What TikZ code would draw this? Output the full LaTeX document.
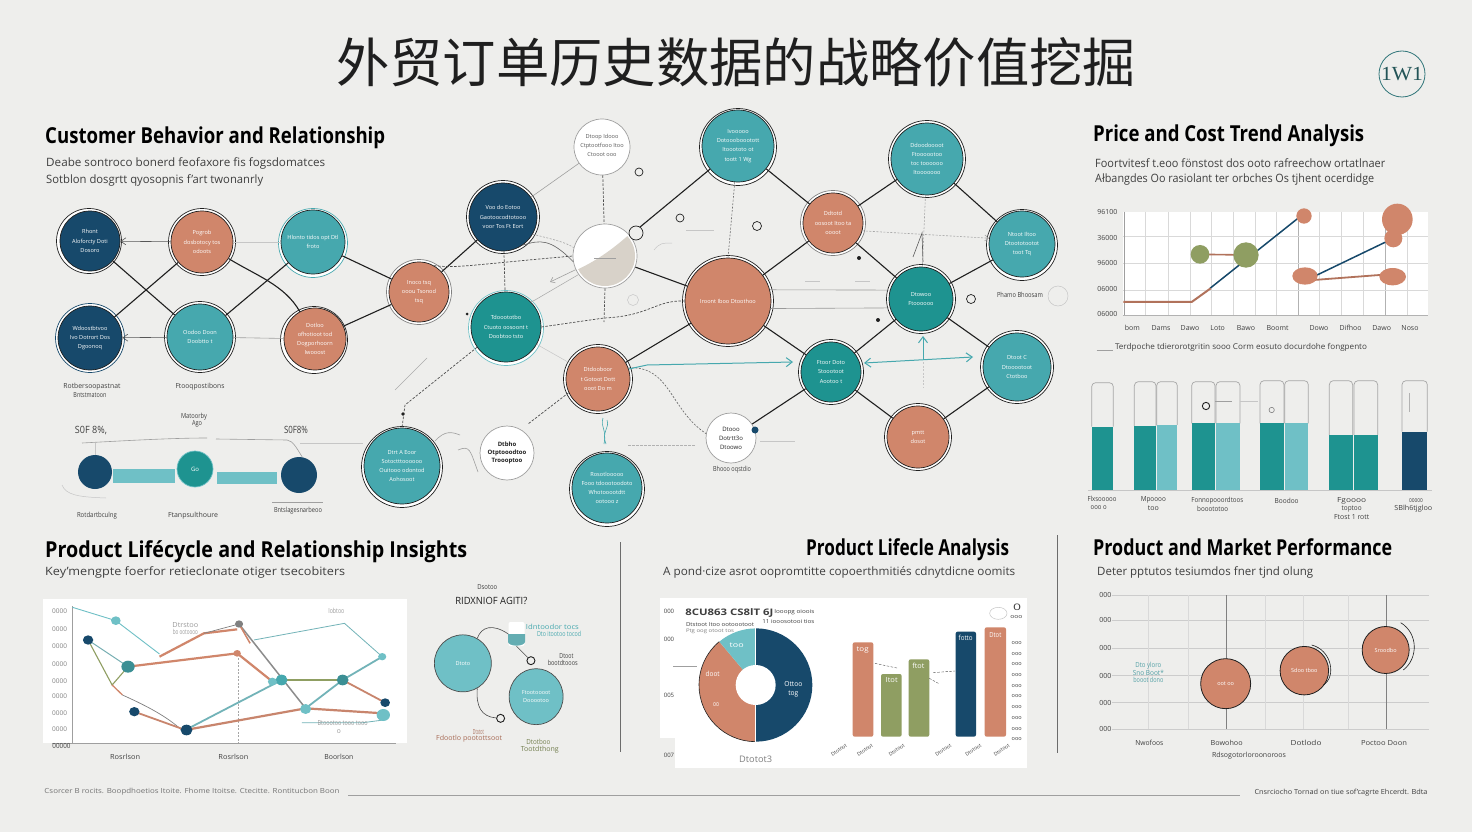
\documentclass[tikz,border=0pt]{standalone}
\usepackage{fontspec}
\setmainfont{Open Sans}
\newfontfamily\cjk{Noto Sans CJK SC}
\newfontfamily\lgf{Liberation Serif}
\usetikzlibrary{arrows.meta,shapes.geometric}
\definecolor{bgc}{HTML}{EEEEEC}
\definecolor{navy}{HTML}{17496B}
\definecolor{coral}{HTML}{D0866B}
\definecolor{teal1}{HTML}{46A8AE}
\definecolor{dteal}{HTML}{1E9390}
\definecolor{lteal}{HTML}{6FC0C6}
\definecolor{olive}{HTML}{8F9E62}
\definecolor{ink}{HTML}{1F1F1F}
\definecolor{txt}{HTML}{3F3F3F}
\definecolor{beige}{HTML}{D8D2C9}
\newcommand\fitw[2]{\resizebox{#1pt}{\height}{#2}}
\newcommand\fs[1]{\fontsize{#1}{#1}\selectfont}
\newcommand\tl[6]{\node[#5] (#1) at (#2,#3) {\fitw{#4}{#6}};}
% name x y r fill edge dx dy text
\newcommand\bub[9]{%
  \draw[#6,line width=.7pt,fill=white] ({#2+#7},{#3+#8}) circle ({#4+2.5});
  \node[bubble,minimum size=2*#4pt,fill=#5] (#1) at (#2,#3) {#9};}
\newcommand\wbub[4]{%
  \node[bubble,minimum size=2*#4pt,fill=white,draw=gray!75] (#1) at (#2,#3) {};}
\tikzset{
  bubble/.style={circle,draw=ink,line width=.7pt,inner sep=0pt,align=center,text=white,font=\fontsize{5.6}{9.2}\selectfont},
  head/.style={anchor=base west,inner sep=0pt,font=\fs{22}\bfseries,text=black},
  sub/.style={anchor=west,inner sep=0pt,font=\fs{11.5},text=txt},
  lbl/.style={inner sep=0pt,font=\fs{7},text=txt},
  link/.style={draw=ink,line width=1.1pt},
  thin gray/.style={draw=gray!75,line width=.6pt},
  faint/.style={draw=gray!45,line width=.5pt},
  dsh/.style={draw=ink!80,line width=.7pt,dash pattern=on 2.5pt off 1.5pt},
  ldsh/.style={draw=gray!70,line width=.6pt,dash pattern=on 2pt off 1.5pt},
  barb/.style={-{Straight Barb[length=5pt,width=7pt]}},
  tarrow/.style={draw=teal1,line width=1pt,-{Straight Barb[length=6pt,width=9pt]}},
  sring/.style={draw=ink,line width=.7pt,fill=none},
  grid1/.style={draw=gray!30,line width=.5pt},
  z3/.style={x=.33333pt,y=-.33333pt},
  oval/.style={ellipse,draw=ink!80,line width=.7pt,fill=lteal,inner sep=0pt,text=white,font=\fontsize{5.5}{8}\selectfont,align=center},
}
\begin{document}
\begin{tikzpicture}[x=1pt,y=-1pt]
\useasboundingbox (0,0) rectangle (1472,832);
\fill[bgc] (0,0) rectangle (1472,832);
% title
\node[inner sep=0pt,font=\cjk\fs{53},text=ink] (title) at (736,62) {\fitw{800}{外贸订单历史数据的战略价值挖掘}};
\draw[teal1!70!black,line width=.8pt] (1402,74) circle (23);
\node[inner sep=0pt,font=\lgf\fs{20},text=teal1!50!black] (logo) at (1402,74) {\fitw{42}{1W1}};
% headings
\tl{h1}{45}{143}{340}{head}{Customer Behavior and Relationship}
\tl{h2}{1093}{142}{271}{head}{Price and Cost Trend Analysis}
\tl{h3}{45}{557}{422}{head}{Product Lifécycle and Relationship Insights}
\tl{h4}{806}{555}{203}{head}{Product Lifecle Analysis}
\tl{h5}{1093}{555}{299}{head}{Product and Market Performance}
\tl{s1}{46}{163}{279}{sub}{Deabe sontroco bonerd feofaxore fis fogsdomatces}
\tl{s2}{46}{180}{217}{sub}{Sotblon dosgrtt qyosopnis f'art twonanrly}
\tl{s3}{1095}{163}{290}{sub}{Foortvitesf t.eoo fönstost dos ooto rafreechow ortatlnaer}
\tl{s4}{1095}{180}{279}{sub}{Ałbangdes Oo rasiolant ter orbches Os tjhent ocerdidge}
\tl{s5}{45}{572}{300}{sub}{Key'mengpte foerfor retieclonate otiger tsecobiters}
\tl{s6}{663}{572}{352}{sub}{A pond·cize asrot oopromtitte copoerthmitiés cdnytdicne oomits}
\tl{s7}{1097}{572}{216}{sub}{Deter pptutos tesiumdos fner tjnd olung}
% separators, footer
\coordinate (v1a) at (620,542); \coordinate (v1b) at (620,752);
\coordinate (v2a) at (1057,535); \coordinate (v2b) at (1057,753);
\draw[draw=gray!85!black,line width=.7pt] (v1a)--(v1b);
\draw[draw=gray!85!black,line width=.7pt] (v2a)--(v2b);
\coordinate (fa) at (348,795); \coordinate (fb) at (1240,795);
\draw[thin gray] (fa)--(fb);
\tl{f1}{192}{792}{295}{lbl,text=gray!90!black}{Csorcer B rocits. Boopdhoetios Itoite. Fhome Itoitse. Ctecitte. Rontitucbon Boon}
\tl{f2}{1341}{793}{173}{lbl}{Cnsrciocho Tornad on tiue sof'cagrte Ehcerdt. Bdta}

% ---------- network bubbles
\bub{a1}{90}{241}{30}{navy}{ink}{-1}{0}{Rhont\\Aloforcty Doti\\Dosoro}
\bub{a2}{202}{242}{31}{coral}{ink}{0}{0}{Pogrob\\dosbotocy tos\\odoots}
\bub{a3}{313}{242}{32}{teal1}{teal1}{0}{1}{Hlonto tidos opt Dtl\\froto}
\bub{b1}{90}{338}{32}{navy}{navy}{0}{0}{Wdoostbtvoo\\Ivo Dotrort Dos\\Dgoonoq}
\bub{b2}{200}{337}{33}{teal1}{ink}{0}{0}{Oodoo Doon\\Doobtto t}
\bub{b3}{315}{339}{31}{coral}{ink}{-1}{1}{Dotloo\\ofhotioot tod\\Dogporhoorn\\Iwooost}
\bub{c}{419}{292}{30}{coral}{gray}{0}{0}{Inoco tsq\\ooou Tsonod\\tsq}
\bub{d}{503}{217}{34}{navy}{ink}{0}{0}{Voo do Eotoo\\Gaotoocodtotooo\\voor Tos Ft Eort}
\wbub{e}{602}{147}{28}
\bub{f}{506}{327}{35}{dteal}{lteal}{0}{1}{Tdooototbo\\Ctuoto oosoont t\\Doobtoo tsto}
\wbub{g}{605}{256}{32}
\bub{h}{728}{301}{43}{coral}{ink}{0}{0}{Iroont Iboo Dtoothoo}
\bub{i}{598}{379}{32}{coral}{ink}{0}{0}{Dtdooboor\\t Gotoot Dott\\ooot Do m}
\bub{j}{402}{466}{38}{teal1}{ink}{0}{1}{Dtrt A Eoor\\Sotoctttoooooo\\Ouitooo odontod\\Aohosoot}
\wbub{k}{507}{453}{27}
\bub{l}{607}{488}{35}{teal1}{ink}{0}{1}{Rosotlooooo\\Fooo tdoootoodoto\\Whotooootdtt\\ootooo z}
\bub{m}{738}{146}{36}{teal1}{ink}{0}{1}{Ivooooo\\Dotoooboootott\\Itooototo ot\\toott 1 Wg}
\bub{n}{833}{223}{30}{coral}{gray}{0}{0}{Ddtotd\\oosoot Itoo ta\\oooot}
\bub{o}{927}{159}{36}{teal1}{ink}{0}{0}{Ddoodoooot\\Ftoooootoo\\toc toooooo\\Itooooooo}
\bub{p}{1022}{244}{33}{teal1}{ink}{0}{1}{Ntoot Iltoo\\Dtoototootot\\toot Tq}
\bub{q}{921}{299}{32}{dteal}{ink}{0}{0}{Dtowoo\\Ftoooooo}
\bub{r}{831}{372}{30}{dteal}{ink}{0}{0}{Ftoor Doto\\Stoootoot\\Aootoo t}
\bub{s}{1017}{367}{34}{teal1}{ink}{0}{0}{Dtoot C\\Dtooootoot\\Ctotboo}
\bub{t}{918}{437}{31}{coral}{ink}{0}{0}{pmtt\\dosot}
\wbub{u}{731}{438}{25}
% white-bubble texts
\node[lbl,align=center,text=gray!70!black,font=\fontsize{5.6}{9}\selectfont] (etx) at (602,145) {Dtoop Idooo\\Ctptootfooo Itoo\\Ctooot ooo};
\node[lbl,align=center,text=ink,font=\fontsize{6}{8}\selectfont\bfseries] (ktx) at (507,453) {Dtbho\\Otptooodtoo\\Troooptoo};
\node[lbl,align=center,text=ink,font=\fontsize{6}{9}\selectfont] (utx) at (731,438) {Dtooo\\Dotrtt3o\\Dtoowo};
% half-filled bubble
\begin{scope}
\clip (g.center) circle (30);
\fill[beige] (572,272) .. controls (595,262) and (612,250) .. (632,232) -- (645,232) -- (645,295) -- (570,295) -- cycle;
\end{scope}
\draw[thin gray] (594,258)--(616,258);
% main links
\draw[link] (a1)--(b2);
\draw[link] (a2)--(b1);
\draw[link] (a3)--(b2);
\draw[link] (a2) .. controls (255,275) and (285,285) .. (b3);
\draw[link] (a3)--(c);
\draw[link] (b3)--(c);
\draw[link] (c)--(d);
\draw[link] (g)--(m);
\draw[link] (g)--(h);
\draw[link] (h)--(n);
\draw[link] (i)--(h);
\draw[link] (m)--(n);
\draw[link] (n)--(o);
\draw[link] (o)--(p);
\draw[link] (n)--(q);
\draw[link] (p)--(q);
\draw[link] (h)--(r);
\draw[link] (q)--(r);
\draw[link] (q)--(s);
\draw[link] (r)--(t);
\draw[link] (s)--(t);
\draw[link] (r)--(u);
% grey links and arrows
\draw[thin gray,barb,draw=ink!75] (a2)--(a1);
\draw[thin gray,barb,draw=ink!75] (b2)--(b1);
\draw[faint] (a2)--(a3);
\draw[thin gray] (b2)--(b3);
\draw[thin gray] (d)--(e);
\draw[thin gray,draw=gray!80] (h.15)--(q.164);
\draw[thin gray,draw=gray!80] (h.-10)--(q.196);
\draw[faint] (f)--(i);
\draw[dsh] (e)--(g);
\draw[dsh] (d)--(f);
\draw[dsh] (f.215)--(405,405)--(j.90);
\draw[ldsh,draw=gray!90!black] (m)--(h.90);
\draw[dsh] (c.60) .. controls (460,268) and (460,266) .. (g.180);
\draw[dsh] (f.0) -- (604,318) .. controls (650,316) and (655,300) .. (h.180);
\draw[dsh] (g.270)--(604,322);
\draw[ldsh] (d.-30) .. controls (555,240) and (565,242) .. (g.165);
\draw[thin gray,draw=ink!70] (d.-55) .. controls (540,240) and (550,238) .. (g.190);
\coordinate (ga1) at (550,282);
\draw[thin gray,-{Straight Barb[length=4pt,width=6pt]}] (g.205)--(ga1);
\coordinate (ga2) at (535,300);
\draw[faint,draw=gray!70] (g.215)--(ga2)--(f.45);
\coordinate (ik) at (528,424);
\draw[dsh] (i.205)--(ik);
\draw[ldsh,draw=ink!70] (i.20) .. controls (670,365) and (670,410) .. (u.170);
\draw[ldsh,-{Straight Barb[length=4pt,width=6pt]}] (n.-15)--(p.170);
\draw[ldsh] (o)--(q);
\coordinate (ia) at (793,362);
\coordinate (ib) at (647,365);
\draw[tarrow] (i.18)--(ib)--(ia);
\coordinate (ra) at (973,357);
\draw[tarrow,{Straight Barb[length=6pt,width=9pt]}-{Straight Barb[length=6pt,width=9pt]}] (864,363)--(ra);
\coordinate (ua) at (923,336); \coordinate (ub) at (923,360);
\draw[tarrow] (ub)--(ua);
\draw[ldsh,draw=gray!45] (923,362)--(923,388);
% sketchy details
\draw[sring] (639,172) circle (4);
\draw[sring] (680,218) circle (4);
\draw[sring,fill=bgc] (636,233) circle (7);
\draw[sring] (757,226) circle (4.5);
\draw[sring] (971,299) circle (4.5);
\fill[navy] (755,430) circle (3.5);
\draw[faint] (1058,296) circle (10);
\draw[faint] (633,300) circle (5.5);
\tl{ph}{1020}{295}{46}{lbl}{Phamo Bhoosam}
\tl{ub2}{732}{470}{38}{lbl}{Bhooo oqstdio}
\draw[thin gray,draw=gray!65] (395,390)--(427,358);
\draw[faint] (654,250) .. controls (660,243) and (662,243) .. (672,243);
\draw[dsh,draw=gray!60] (628,445)--(695,445);
\draw[faint] (686,230)--(714,230);
\draw[faint] (805,281)--(820,281);
\draw[faint] (855,281)--(870,281);
\draw[faint] (760,441)--(795,441);
\draw[thin gray] (435,441) .. controls (445,430) and (452,432) .. (460,435);
\draw[thin gray] (458,450) .. controls (470,445) and (470,450) .. (478,472);
\draw[thin gray,draw=teal1] (603,418) .. controls (600,428) and (607,428) .. (604,444);
\draw[thin gray,draw=teal1] (607,420) .. controls (610,428) and (601,432) .. (606,444);
\draw[thin gray,draw=gray!70!black] (913,257)--(922,233)--(923,262);
\fill[ink] (859,258) circle (2);
\fill[ink] (878,320) circle (2);
\fill[ink] (403,414) circle (1.8);
\fill[ink] (467,314) circle (1.5);
% lower left labels
\tl{l1}{92}{387}{57}{lbl}{Rotbersoopastnat}
\tl{l2}{90}{395}{33}{lbl}{Bntstmatoon}
\tl{l3}{200}{387}{49}{lbl}{Ftooqpostibons}
\tl{l4}{194}{417}{26}{lbl}{Matoorby}
\tl{l5}{197}{424}{10}{lbl}{Ago}
\tl{l6}{91}{431}{32}{lbl,font=\fs{10}}{S0F 8\%,}
\tl{l7}{296}{430}{24}{lbl,font=\fs{10}}{S0F8\%}
\tl{l8}{97}{516}{40}{lbl}{Rotdartbculng}
\tl{l9}{193}{516}{50}{lbl}{Ftanpsulthoure}
\tl{l10}{298}{511}{48}{lbl}{Bntslagesnarbeoo}
% mini chain
\fill[lteal] (113,469) rectangle (175,483);
\fill[lteal] (217,472) rectangle (277,484);
\node[bubble,minimum size=34pt,fill=navy,draw=none] (c1) at (95,472) {};
\node[bubble,minimum size=36pt,fill=dteal,draw=lteal] (c2) at (195,469) {\fs{6}Go};
\node[bubble,minimum size=36pt,fill=navy,draw=none] (c3) at (299,475) {};
\coordinate (m1) at (82,443); \coordinate (m2) at (207,438); \coordinate (m3) at (216,439); \coordinate (m4) at (287,440);
\draw[thin gray] (m1) .. controls (120,441) and (170,438) .. (m2);
\draw[thin gray] (m3) -- (m4) .. controls (293,441) and (296,447) .. (c3.80);
\draw[faint] (c1)--(95,443);
\draw[faint] (300,443)--(363,443);
\draw[faint] (62,485) .. controls (66,495) and (78,497) .. (106,498);
\draw[thin gray] (272,502)--(323,502);

% ---------- price chart
\begin{scope}[shift={(1080,110)},z3]
\fill[white] (130,305) rectangle (1045,615);
\foreach \xx in {197,265,330,393,460,525,590,718,785,850,983} \draw[grid1] (\xx,305)--(\xx,615);
\foreach \xx in {655,915} \draw[grid1,draw=gray!60] (\xx,305)--(\xx,615);
\foreach \yy in {380,460,540} \draw[grid1] (130,\yy)--(1045,\yy);
\draw[grid1,draw=gray!60] (130,615)--(1045,615);
\draw[thin gray] (132,305)--(132,615);
\draw[navy,line width=1.5pt] (390,535)--(660,320);
\draw[navy,line width=1.5pt] (680,510)--(940,385);
\draw[coral!85!black,line width=2pt] (130,576)--(335,576)--(392,535);
\draw[coral!85!black,line width=1.6pt] (360,433)--(498,435);
\draw[coral!85!black,line width=1.8pt] (675,512)--(938,492);
\fill[olive] (360,433) circle (28);
\fill[olive] (498,435) circle (38);
\fill[coral] (672,318) circle (23);
\fill[coral] (952,328) ellipse (46 and 47);
\fill[coral] (940,385) circle (27);
\fill[coral] (675,498) ellipse (38 and 26);
\fill[coral] (938,500) ellipse (40 and 26);
\foreach \yy/\lab [count=\n] in {305/96100,383/36000,460/96000,536/06000,612/06000}
  \node[lbl] (py\n) at (82,\yy) {\lab};
\foreach \xx/\lab [count=\n] in {157/bom,243/Dams,330/Dawo,413/Loto,498/Bawo,593/Boomt,717/Dowo,812/Difhoo,905/Dawo,990/Noso}
  \node[lbl] (px\n) at (\xx,655) {\lab};
\coordinate (lg1) at (50,722); \coordinate (lg2) at (100,722);
\draw[thin gray] (lg1)--(lg2);
\tl{plg}{483}{713}{252}{lbl,font=\fs{8}}{Terdpoche tdierorotgritin sooo  Corm eosuto docurdohe fongpento}
% bars
\foreach \a/\b/\tp/\ft/\col in {35/100/818/950/dteal,163/228/815/948/dteal,230/292/815/945/lteal,335/405/815/940/dteal,408/480/815/940/lteal,540/612/812/940/dteal,614/685/812/940/lteal,748/818/812/975/dteal,822/893/812/975/dteal,966/1042/812/965/navy}{
  \draw[gray!70,line width=.7pt,rounded corners=4pt] (\a,\ft)--(\a,\tp)--(\b,\tp)--(\b,\ft);
  \fill[\col] (\a,\ft) rectangle (\b,1140);
}
\draw[faint] (25,1140)--(1055,1140);
\draw[ink,line width=.9pt] (378,888) circle (11);
\draw[thin gray] (405,873)--(455,873);
\draw[faint] (480,873)--(535,873);
\draw[gray,line width=.6pt] (575,900) circle (8);
\draw[gray!60,line width=.5pt] (988,850)--(988,905);
\tl{bl1}{66}{1168}{29}{lbl}{Flxsooooo}
\tl{bl2}{56}{1193}{16}{lbl}{ooo o}
\tl{bl3}{220}{1170}{25}{lbl}{Mpoooo}
\tl{bl4}{220}{1195}{11}{lbl}{too}
\tl{bl5}{412}{1172}{52}{lbl}{Fonnopooordtoos}
\tl{bl6}{398}{1197}{31}{lbl}{booototoo}
\tl{bl7}{620}{1172}{24}{lbl}{Boodoo}
\tl{bl8}{815}{1173}{29}{lbl}{Fgoooo}
\tl{bl9}{815}{1198}{20}{lbl}{toptoo}
\tl{bl10}{815}{1222}{35}{lbl}{Ftost 1 rott}
\tl{bl11}{1008}{1172}{14}{lbl}{ooooo}
\tl{bl12}{1000}{1197}{38}{lbl}{SBlh6tjgloo}
\end{scope}

% ---------- lifecycle line chart
\begin{scope}[shift={(30,530)},x=.36996pt,y=-.33333pt]
\fill[white] (35,208) rectangle (1018,640);
\draw[thin gray] (115,228)--(115,640);
\draw[thin gray] (60,640)--(988,640);
\draw[ldsh,draw=gray!70] (563,385)--(563,640);
\draw[lteal,line width=.9pt] (115,232)--(232,272)--(350,372);
\draw[lteal!80!gray,line width=.8pt] (605,330)--(850,280)--(952,380);
\draw[lteal!70!gray,line width=1pt] (157,330)--(265,410);
\draw[olive,line width=1.1pt] (157,330)--(222,465)--(265,410);
\draw[coral,line width=1.3pt] (222,465)--(250,495);
\draw[gray,line width=.7pt] (250,495) .. controls (320,530) and (370,560) .. (410,600);
\draw[coral,line width=2.2pt] (265,410)--(560,370)--(650,450);
\draw[coral,line width=2.2pt] (350,380)--(470,310)--(560,298);
\draw[gray,line width=.7pt] (470,310)--(565,282);
\draw[gray!90,line width=1.5pt] (565,282)--(745,535);
\draw[coral,line width=1.5pt] (565,282)--(595,340);
\draw[olive,line width=2.2pt] (650,450)--(845,450);
\draw[lteal!80!gray,line width=1.8pt] (420,600)--(680,450);
\draw[lteal!80!gray,line width=1.8pt] (745,535)--(845,450)--(952,380);
\draw[coral!90!gray,line width=1.8pt] (845,450)--(960,518);
\draw[coral!90!gray,line width=2.2pt] (420,600)--(745,535)--(955,550);
\draw[coral!90!gray,line width=1.8pt] (282,545)--(420,600);
\draw[lteal!80!gray,line width=.8pt] (735,578)--(900,578)--(955,570);
\foreach \xx/\yy/\rr/\col in {232/272/13/lteal,157/330/14/navy,265/410/18/teal1!85!black,565/282/11/gray,560/370/10/coral,680/450/16/teal1,655/455/12/lteal,845/450/16/teal1!85!black,952/380/11/lteal,745/537/15/lteal,955/555/18/lteal,960/518/13/navy,282/545/14/navy,423/600/16/navy}
  \fill[\col] (\xx,\yy) ellipse ({\rr} and {\rr});
\foreach \yy/\lab [count=\n] in {245/0000,297/0000,348/0000,403/0000,453/0000,500/0000,550/0000,598/0000}
  \node[lbl,font=\fs{6.5},text=gray] (ly\n) at (80,\yy) {\lab};
\tl{ly9}{85}{647}{18}{lbl}{00000}
\tl{lx1}{257}{680}{30}{lbl}{Rosrlson}
\tl{lx2}{550}{680}{30}{lbl}{Rosrlson}
\tl{lx3}{835}{680}{29}{lbl}{Boorlson}
\tl{ln1}{420}{284}{26}{lbl,text=gray!80}{Dtrstoo}
\tl{ln2}{420}{307}{25}{lbl,text=gray!80}{bo ootoooo}
\tl{ln3}{828}{242}{16}{lbl,text=gray!80}{Iobtoo}
\tl{ln4}{835}{605}{4}{lbl,text=gray!80}{o}
\tl{ln5}{845}{578}{50}{lbl,text=gray!80}{Btoootoo tooo tooo}
% relationship mini-graph
\tl{ra}{1236}{172}{20}{lbl}{Dsotoo}
\node[inner sep=0pt,font=\fs{10},text=ink] (rb) at (1247,213) {\fitw{72}{RIDXNIOF AGITI?}};
\node[oval,minimum width=57pt,minimum height=57pt] (ov1) at (1170,400) {Dtoto};
\node[oval,minimum width=54pt,minimum height=56pt] (ov2) at (1368,500) {Ftootoooot\\Dooootoo};
\node[inner sep=0pt,minimum width=16pt,minimum height=24pt,fill=white,rounded corners=2pt] (cup) at (1315,312) {};
\fill[lteal!90!black] (1292,312) -- (1338,312) -- (1338,335) arc[start angle=0,end angle=180,x radius=23,y radius=12] -- cycle;
\node[circle,draw=ink,line width=.9pt,minimum size=8pt,inner sep=0pt] (r1) at (1354,392) {};
\node[circle,draw=ink,line width=.9pt,minimum size=8pt,inner sep=0pt] (r2) at (1272,565) {};
\draw[thin gray,draw=ink!80] (ov1.60) .. controls (1220,290) and (1250,280) .. (cup.west);
\draw[thin gray,draw=ink!80] (cup.south) -- (r1);
\draw[thin gray,draw=ink!80] (ov1.-60) .. controls (1205,530) and (1220,560) .. (r2);
\tl{rt1}{1412}{291}{53}{lbl,text=teal1}{Idntoodor tocs}
\tl{rt2}{1430}{313}{44}{lbl,text=teal1}{Dto itootoo tocod}
\tl{rt3}{1450}{378}{14}{lbl}{Dtoot}
\tl{rt4}{1440}{400}{30}{lbl}{bootdtooos}
\tl{rt5}{1212}{605}{11}{lbl,text=coral!80!black}{Dtotot}
\tl{rt6}{1187}{627}{66}{lbl,text=coral!80!black}{Fdootlo pootottsoot}
\tl{rt7}{1374}{637}{24}{lbl,text=olive!80!black}{Dtotboo}
\tl{rt8}{1378}{658}{38}{lbl,text=olive!80!black}{Tootdthong}
\end{scope}

% ---------- lifecycle panel (pie and bars)
\begin{scope}[shift={(640,530)},z3]
\fill[white] (60,205) rectangle (1160,625);
\fill[white] (105,625) rectangle (1160,715);
\fill[navy] (347,295) arc[start angle=-90,end angle=90,radius=170] -- cycle;
\fill[coral] (347,635) arc[start angle=90,end angle=230,radius=170] -- (347,465) -- cycle;
\draw[ink,line width=.6pt] (347,635) arc[start angle=90,end angle=230,radius=170];
\fill[lteal] (347,465) -- (238,335) arc[start angle=230,end angle=270,radius=170] -- cycle;
\draw[white,line width=.8pt] (347,295)--(347,635);
\fill[white] (347,465) circle (60);
\draw[thin gray] (100,410)--(170,410);
\foreach \a/\b/\tp/\col in {638/700/337/coral,723/785/432/olive,806/868/388/olive,947/1008/305/navy,1034/1098/292/coral}
  \fill[\col,rounded corners=2pt] (\a,\tp) rectangle (\b,620);
\foreach \yy/\lab [count=\n] in {245/000,328/000,497/005,675/007}
  \node[lbl,font=\fs{6}] (dy\n) at (87,\yy) {\lab};
\tl{dt1}{268}{250}{88}{lbl,font=\fs{9}\bfseries}{8CU863 CS8lT 6J}
\tl{dt2}{463}{245}{40}{lbl,font=\fs{5.5}}{Iooopg oioois}
\tl{dt3}{445}{274}{52}{lbl,font=\fs{5.5}}{11 iooosotooi tios}
\tl{dt4}{240}{284}{68}{lbl,font=\fs{5.5}}{Dtstoot Itoo ootoootoot}
\tl{dt5}{210}{303}{48}{lbl,font=\fs{5},text=gray}{Ptg oog otoot tos}
\tl{dt6}{347}{687}{33}{lbl,font=\fs{9},text=gray}{Dtotot3}
\tl{dt7}{218}{433}{14}{lbl,text=white}{doot}
\tl{dt8}{460}{463}{18}{lbl,text=white}{Ottoo}
\tl{dt9}{460}{493}{10}{lbl,text=white}{tog}
\tl{dt10}{228}{525}{6}{lbl,text=white}{oo}
\tl{dt11}{290}{347}{14}{lbl,text=white}{too}
\tl{dt12}{668}{360}{12}{lbl,text=white}{tog}
\tl{dt13}{755}{451}{12}{lbl,text=white}{Itot}
\tl{dt14}{835}{408}{12}{lbl,text=white}{ftot}
\tl{dt15}{977}{324}{14}{lbl,text=white}{fotto}
\tl{dt16}{1066}{316}{12}{lbl,text=white}{Dtot}
\foreach \yy/\lab [count=\n] in {340/ooo,372/ooo,402/ooo,435/ooo,467/ooo,498/ooo,530/ooo,564/ooo,596/ooo,626/ooo}
  \node[lbl,font=\fs{5.5}] (dr\n) at (1130,\yy) {\lab};
\draw[dsh,line width=.4pt] (705,400)--(775,415);
\draw[dsh,line width=.4pt] (880,428)--(945,423);
\draw[dsh,line width=.4pt] (868,445)--(895,460);
\foreach \xx/\n in {597/a,675/b,770/c,910/d,1000/e,1085/f}{
  \node[lbl,rotate=35,font=\fs{5}] (dx\n) at (\xx,660) {Dtotoot};
}
\draw[faint] (1075,250) ellipse (26 and 18);
\tl{dq1}{1131}{232}{8}{lbl,font=\fs{9}}{0}
\tl{dq2}{1129}{261}{12}{lbl,font=\fs{5.5}}{ooo}
\end{scope}

% ---------- performance chart
\begin{scope}[shift={(1060,530)},z3]
\foreach \yy/\lab [count=\n] in {195/000,270/000,355/000,437/000,518/000,597/000}{
  \draw[grid1,draw=gray!40] (155,\yy)--(1108,\yy);
  \node[lbl] (qy\n) at (136,\yy) {\lab};
}
\foreach \xx in {265,385,615,730,865} \draw[grid1] (\xx,195)--(\xx,597);
\foreach \xx in {500,980} \draw[gray,line width=.7pt] (\xx,195)--(\xx,597);
\node[circle,draw=ink,line width=.8pt,fill=coral,minimum size=50pt,inner sep=0pt,text=white,font=\fs{5.5}] (q1) at (497,461) {oot oo};
\node[circle,draw=ink,line width=.8pt,fill=coral,minimum size=48.5pt,inner sep=0pt,text=white,font=\fs{5.5}] (q2) at (733,422) {Sdoo tboo};
\node[circle,draw=ink,line width=.8pt,fill=coral,minimum size=47pt,inner sep=0pt,text=white,font=\fs{5.5}] (q3) at (977,360) {Sroodbo};
\draw[ink,line width=.6pt] (755,345) .. controls (815,360) and (830,440) .. (790,465);
\draw[ink,line width=.6pt] (1022,278) .. controls (1075,310) and (1075,385) .. (1030,420);
\tl{qn1}{265}{408}{26}{lbl,text=teal1!80!gray}{Dto yloro}
\tl{qn2}{265}{429}{31}{lbl,text=teal1!80!gray}{Sno Boot*}
\tl{qn3}{265}{450}{30}{lbl,text=teal1!80!gray}{booot dono}
\tl{qx1}{268}{640}{28}{lbl}{Nwofoos}
\tl{qx2}{500}{640}{32}{lbl}{Bowohoo}
\tl{qx3}{738}{640}{31}{lbl}{Dotlodo}
\tl{qx4}{972}{640}{46}{lbl}{Poctoo Doon}
\tl{qx5}{567}{676}{74}{lbl}{Rdsogotorloroonoroos}
\end{scope}
\end{tikzpicture}
\end{document}
